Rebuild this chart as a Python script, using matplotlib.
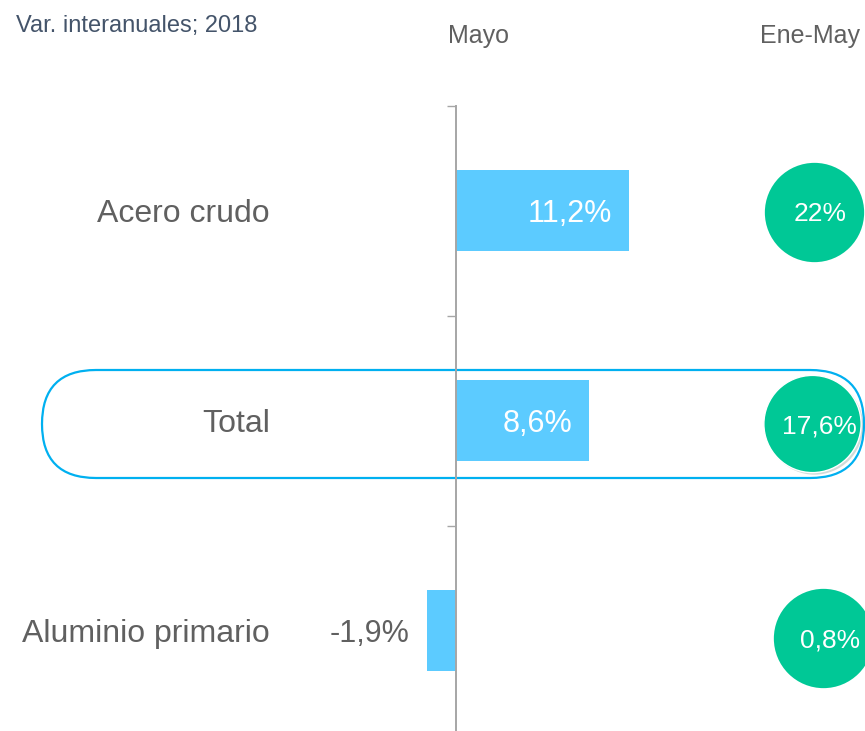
import matplotlib
matplotlib.use("Agg")
import matplotlib.pyplot as plt
import matplotlib.patheffects as pe
from matplotlib.patches import FancyBboxPatch

plt.rcParams['font.family'] = ['Liberation Sans', 'DejaVu Sans']

# datos
categorias = ['Acero crudo', 'Total', 'Aluminio primario']
mayo = [11.2, 8.6, -1.9]
ene_may = [22.0, 17.6, 0.8]
titulo = 'Var. interanuales; 2018'
columnas = ['Mayo', 'Ene-May']

# colores
c_barra = '#5CCBFF'
c_circulo = '#00C896'
c_borde = '#00B0F0'
c_gris = '#606060'
c_eje = '#A6A6A6'


def fmt(v):
    return f"{v:g}".replace('.', ',') + '%'


W, H = 865, 731
fig = plt.figure(figsize=(W / 100, H / 100), dpi=100)
ax = fig.add_axes([0, 0, 1, 1])

# escala: 15.45 px por punto porcentual, 210 px por categoria
px_x = 15.45
px_y = 210
x0_px, y0_px = 456, 210.5
ax.set_xlim(-x0_px / px_x, (W - x0_px) / px_x)
ax.set_ylim((H - y0_px) / px_y, -y0_px / px_y)

pos = list(range(len(categorias)))

# barras de mayo
ax.barh(pos, mayo, height=81 / px_y, color=c_barra, zorder=2)

# eje vertical con marcas entre categorias
for s in ['top', 'right', 'bottom']:
    ax.spines[s].set_visible(False)
ax.spines['left'].set_position(('data', 0))
ax.spines['left'].set_bounds(-0.5, 2.6)
ax.spines['left'].set_color(c_eje)
ax.spines['left'].set_linewidth(1.4)
ax.spines['left'].set_zorder(3)
ax.set_xticks([])
ax.set_yticks([-0.5, 0.5, 1.5])
ax.set_yticklabels([])
ax.tick_params(axis='y', length=6.5, width=1.0, color=c_eje, direction='out')
ax.patch.set_visible(False)

# recuadro redondeado del total
i_tot = categorias.index('Total')
y_top = (370 - y0_px) / px_y
y_bot = (478 - y0_px) / px_y
x_izq = (42 - x0_px) / px_x
x_der = (864 - x0_px) / px_x
radio = 54 / px_x
caja = FancyBboxPatch((x_izq, y_top), x_der - x_izq, y_bot - y_top,
                      boxstyle=f"round,pad=0,rounding_size={radio}",
                      mutation_aspect=px_x / px_y,
                      facecolor='none', edgecolor=c_borde, linewidth=1.6,
                      zorder=1)
ax.add_patch(caja)

# etiquetas de categoria
lab_x = (270 - x0_px) / px_x
for i, cat in enumerate(categorias):
    ax.annotate(cat, (lab_x, i), xytext=(0, -8.3), textcoords='offset points',
                ha='right', va='baseline', fontsize=23, color=c_gris)

# etiquetas de las barras
for i, v in enumerate(mayo):
    if v >= 0:
        ax.annotate(fmt(v), (v, i), xytext=(-12, -8.0), textcoords='offset points',
                    ha='right', va='baseline', fontsize=22, color='white', zorder=4)
    else:
        ax.annotate(fmt(v), (v, i), xytext=(-12.5, -8.0), textcoords='offset points',
                    ha='right', va='baseline', fontsize=22, color=c_gris, zorder=4)

# circulos ene-may
circ_x = [(813.5 - x0_px) / px_x, (812.5 - x0_px) / px_x, (823 - x0_px) / px_x]
circ_y = [(212 - y0_px) / px_y, (424 - y0_px) / px_y, (638 - y0_px) / px_y]
for i, v in enumerate(ene_may):
    if i == i_tot:
        ax.scatter([circ_x[i]], [circ_y[i]], s=70 ** 2, color=c_circulo,
                   edgecolors='white', linewidths=1.0, zorder=5,
                   path_effects=[pe.SimplePatchShadow(offset=(1.5, -1.5), alpha=0.18),
                                 pe.Normal()])
    else:
        ax.scatter([circ_x[i]], [circ_y[i]], s=71.5 ** 2, color=c_circulo,
                   linewidths=0, zorder=5)
    ax.annotate(fmt(v), (circ_x[i], circ_y[i]), xytext=(5, -6.8),
                textcoords='offset points', ha='center', va='baseline',
                fontsize=19, color='white', zorder=6)

# cabeceras
fig.text(16 / W, 1 - 32 / H, titulo, ha='left', va='baseline',
         fontsize=17, color='#44546A')
fig.text(479 / W, 1 - 43 / H, columnas[0], ha='center', va='baseline',
         fontsize=18, color=c_gris)
fig.text(809.5 / W, 1 - 43 / H, columnas[1], ha='center', va='baseline',
         fontsize=18, color=c_gris)

fig.savefig('out.png', dpi=100)
